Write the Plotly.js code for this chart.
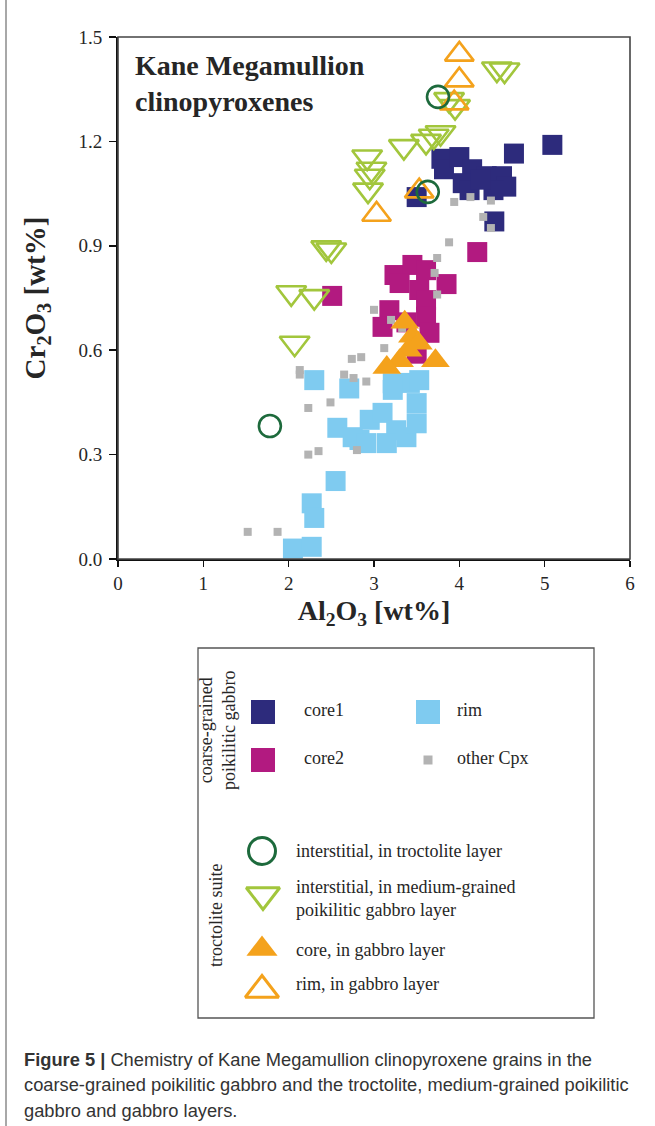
<!DOCTYPE html>
<html>
<head>
<meta charset="utf-8">
<script src="https://cdn.plot.ly/plotly-3.0.1.min.js"></script>
<style>html,body{margin:0;padding:0;background:#fff;}#chart{width:655px;height:1126px;}</style>
</head>
<body>
<div id="chart"></div>
<script>
// ---------------- data (Al2O3 wt%, Cr2O3 wt%) ----------------
const core1X = [3.50, 3.79, 3.82, 4.00, 4.15, 4.04, 4.32, 4.50, 4.55, 4.12, 4.40, 4.64, 5.09, 4.41, 4.25];
const core1Y = [1.04, 1.15, 1.12, 1.155, 1.12, 1.08, 1.10, 1.10, 1.07, 1.06, 1.06, 1.165, 1.19, 0.97, 1.09];

const core2X = [2.51, 4.21, 3.24, 3.45, 3.61, 3.85, 3.30, 3.53, 3.61, 3.18, 3.10, 3.61, 3.65, 3.50, 3.38];
const core2Y = [0.756, 0.882, 0.816, 0.845, 0.83, 0.79, 0.793, 0.773, 0.744, 0.715, 0.667, 0.696, 0.65, 0.59, 0.68];

const rimX = [2.30, 2.71, 2.57, 2.83, 2.55, 2.27, 2.30, 2.05, 2.27, 2.75, 2.91, 2.95, 3.10, 3.22, 3.42, 3.50, 3.26, 3.38, 3.50, 3.15, 3.53, 3.22];
const rimY = [0.514, 0.49, 0.377, 0.342, 0.224, 0.16, 0.118, 0.03, 0.035, 0.35, 0.333, 0.40, 0.42, 0.486, 0.506, 0.448, 0.37, 0.35, 0.39, 0.333, 0.514, 0.505];

const otherX = [1.52, 1.87, 2.13, 2.13, 2.23, 2.49, 2.23, 2.35, 2.74, 2.85, 2.65, 2.76, 2.91, 2.80, 3.12, 3.88, 3.74, 3.71, 3.74, 3.00, 3.20, 3.33, 3.94, 4.13, 4.37, 4.28, 4.37];
const otherY = [0.078, 0.078, 0.543, 0.53, 0.434, 0.45, 0.30, 0.31, 0.575, 0.58, 0.53, 0.52, 0.51, 0.313, 0.606, 0.91, 0.865, 0.822, 0.76, 0.716, 0.687, 0.664, 1.026, 1.04, 1.03, 0.983, 0.951];

const troctX = [1.78, 3.63, 3.75];
const troctY = [0.382, 1.055, 1.328];

const medX = [2.03, 2.30, 2.07, 2.44, 2.50, 2.92, 2.97, 2.95, 2.93, 3.35, 3.61, 3.70, 3.78, 3.88, 3.95, 4.44, 4.53];
const medY = [0.765, 0.754, 0.62, 0.894, 0.888, 1.155, 1.12, 1.10, 1.06, 1.185, 1.20, 1.215, 1.225, 1.32, 1.30, 1.408, 1.405];

const gabCoreX = [3.36, 3.45, 3.40, 3.30, 3.15, 3.72, 3.52];
const gabCoreY = [0.68, 0.64, 0.60, 0.57, 0.55, 0.57, 0.62];

const gabRimX = [3.03, 3.53, 3.94, 4.00, 4.00];
const gabRimY = [0.99, 1.057, 1.31, 1.376, 1.45];

const xTicks = [0, 1, 2, 3, 4, 5, 6];
const yTicks = [0.0, 0.3, 0.6, 0.9, 1.2, 1.5];

const seriesNames = ["core1", "rim", "core2", "other Cpx",
  "interstitial, in troctolite layer",
  "interstitial, in medium-grained<br>poikilitic gabbro layer",
  "core, in gabbro layer", "rim, in gabbro layer"];
const groupLabels = ["coarse-grained<br>poikilitic gabbro", "troctolite suite"];
const chartTitle = "<b>Kane Megamullion<br>clinopyroxenes</b>";
const captionLines = [
  "<b>Figure 5 |</b> Chemistry of Kane Megamullion clinopyroxene grains in the",
  "coarse-grained poikilitic gabbro and the troctolite, medium-grained poikilitic",
  "gabbro and gabbro layers."];

// ---------------- styles ----------------
const C_CORE1 = "#2d2b7c", C_CORE2 = "#b21a80", C_RIM = "#7fcbf0", C_OTHER = "#b3b3b3";
const C_TROCT = "#1d6a3c", C_MED = "#a2c63c", C_ORANGE = "#f4a21c";
const SERIF = "Liberation Serif, Times New Roman, serif";
const SANS = "Liberation Sans, Arial, sans-serif";
const TXT = "#262626";

const W = 655, H = 1126, ML = 118, MR = 25, MT = 37, MB = 0;
const xp = px => (px - ML) / (W - ML - MR);
const yp = py => (H - MB - py) / (H - MT - MB);

function sq(x, y, color, size) {
  return {x, y, type: "scatter", mode: "markers", showlegend: false, hoverinfo: "skip",
    marker: {symbol: "square", size, color, line: {width: 0}}};
}
function sym(x, y, symbol, color, size, lw, xa, ya) {
  return {x, y, type: "scatter", mode: "markers", showlegend: false, hoverinfo: "skip",
    xaxis: xa || "x", yaxis: ya || "y",
    marker: {symbol, size, color, line: {width: lw, color}}};
}

const traces = [
  sq(rimX, rimY, C_RIM, 20),
  sq(core2X, core2Y, C_CORE2, 20),
  sq(core1X, core1Y, C_CORE1, 20),
  sq(otherX, otherY, C_OTHER, 8),
  sym(medX, medY, "triangle-down-open", C_MED, 26, 2.6),
  sym(gabCoreX, gabCoreY, "triangle-up", C_ORANGE, 25, 0),
  sym(gabRimX, gabRimY, "triangle-up-open", C_ORANGE, 25, 2.6),
  sym(troctX, troctY, "circle-open", C_TROCT, 22, 2.6)
];

// legend glyphs drawn on a pixel-ranged helper axis pair (x2/y2)
const LBX0 = 198, LBX1 = 594, LBY0 = 648, LBY1 = 1018;
const legRows = [
  {px: 263, py: 712, s: "square", c: C_CORE1, size: 24, lw: 0},
  {px: 428, py: 712, s: "square", c: C_RIM, size: 24, lw: 0},
  {px: 263, py: 760, s: "square", c: C_CORE2, size: 24, lw: 0},
  {px: 428, py: 760, s: "square", c: C_OTHER, size: 9, lw: 0},
  {px: 262, py: 851, s: "circle-open", c: C_TROCT, size: 27, lw: 3},
  {px: 263, py: 895, s: "triangle-down-open", c: C_MED, size: 29, lw: 3},
  {px: 262, py: 949, s: "triangle-up", c: C_ORANGE, size: 27, lw: 0},
  {px: 262, py: 990, s: "triangle-up-open", c: C_ORANGE, size: 29, lw: 3}
];
const labelPos = [[302, 710], [455, 710], [302, 758], [455, 758], [294, 851], [294, 898], [294, 950], [294, 984]];
legRows.forEach(r => traces.push(sym([r.px], [r.py], r.s, r.c, r.size, r.lw, "x2", "y2")));

const annotations = [
  {text: chartTitle, xref: "paper", yref: "paper", x: xp(133), y: yp(48), xanchor: "left", yanchor: "top",
   align: "left", showarrow: false, font: {family: SERIF, size: 28, color: TXT}}
];

seriesNames.forEach((t, i) => annotations.push({
  text: t, xref: "x2", yref: "y2", x: labelPos[i][0], y: labelPos[i][1], xanchor: "left", yanchor: "middle",
  align: "left", showarrow: false, font: {family: SERIF, size: 18, color: TXT}
}));
annotations.push({text: groupLabels[0], xref: "paper", yref: "paper", x: xp(218), y: yp(731), textangle: -90,
  xanchor: "center", yanchor: "middle", showarrow: false, align: "center",
  font: {family: SERIF, size: 18, color: TXT}});
annotations.push({text: groupLabels[1], xref: "paper", yref: "paper", x: xp(216), y: yp(916), textangle: -90,
  xanchor: "center", yanchor: "middle", showarrow: false, align: "center",
  font: {family: SERIF, size: 18, color: TXT}});

captionLines.forEach((t, i) => annotations.push({
  text: t, xref: "paper", yref: "paper", x: xp(22), y: yp(1059 + i * 25.5), xanchor: "left", yanchor: "middle",
  showarrow: false, align: "left", font: {family: SANS, size: 18.3, color: "#333"}
}));

const shapes = [
  {type: "rect", xref: "paper", yref: "paper", x0: 0, x1: 1, y0: yp(559), y1: 1,
   line: {color: "#444", width: 1.6}, layer: "above"},
  {type: "rect", xref: "paper", yref: "paper", x0: xp(LBX0), x1: xp(LBX1), y0: yp(LBY1), y1: yp(LBY0),
   line: {color: "#555", width: 1.3}, layer: "below"},
  {type: "line", xref: "paper", yref: "paper", x0: xp(6), x1: xp(6), y0: yp(1126), y1: yp(0),
   line: {color: "#a8a8a8", width: 2}}
];

const layout = {
  width: W, height: H,
  margin: {l: ML, r: MR, t: MT, b: MB},
  paper_bgcolor: "#fff", plot_bgcolor: "rgba(0,0,0,0)",
  showlegend: false,
  xaxis: {domain: [0, 1], anchor: "y", range: [0, 6], tickvals: xTicks, ticktext: xTicks.map(String),
    showgrid: false, zeroline: false, showline: true, linecolor: "#111", linewidth: 2,
    ticks: "outside", ticklen: 6, tickwidth: 1.5, tickcolor: "#111", automargin: false,
    tickfont: {family: SERIF, size: 19, color: TXT},
    title: {text: "<b>Al<sub>2</sub>O<sub>3</sub> [wt%]</b>", font: {family: SERIF, size: 28, color: TXT}, standoff: 8}},
  yaxis: {domain: [yp(559), 1], anchor: "x", range: [0, 1.5], tickvals: yTicks, ticktext: yTicks.map(v => v.toFixed(1)),
    showgrid: false, zeroline: false, showline: true, linecolor: "#111", linewidth: 2,
    ticks: "outside", ticklen: 7, tickwidth: 1.5, tickcolor: "#111", automargin: false, ticklabelstandoff: 3,
    tickfont: {family: SERIF, size: 19, color: TXT},
    title: {text: "<b>Cr<sub>2</sub>O<sub>3</sub> [wt%]</b>", font: {family: SERIF, size: 29, color: TXT}, standoff: 24}},
  xaxis2: {domain: [xp(LBX0 + 38), xp(LBX1)], anchor: "y2", range: [LBX0 + 38, LBX1], visible: false, fixedrange: true},
  yaxis2: {domain: [yp(LBY1), yp(LBY0)], anchor: "x2", range: [LBY1, LBY0], visible: false, fixedrange: true},
  annotations, shapes
};

Plotly.newPlot("chart", traces, layout, {staticPlot: true, displayModeBar: false});
</script>
</body>
</html>
